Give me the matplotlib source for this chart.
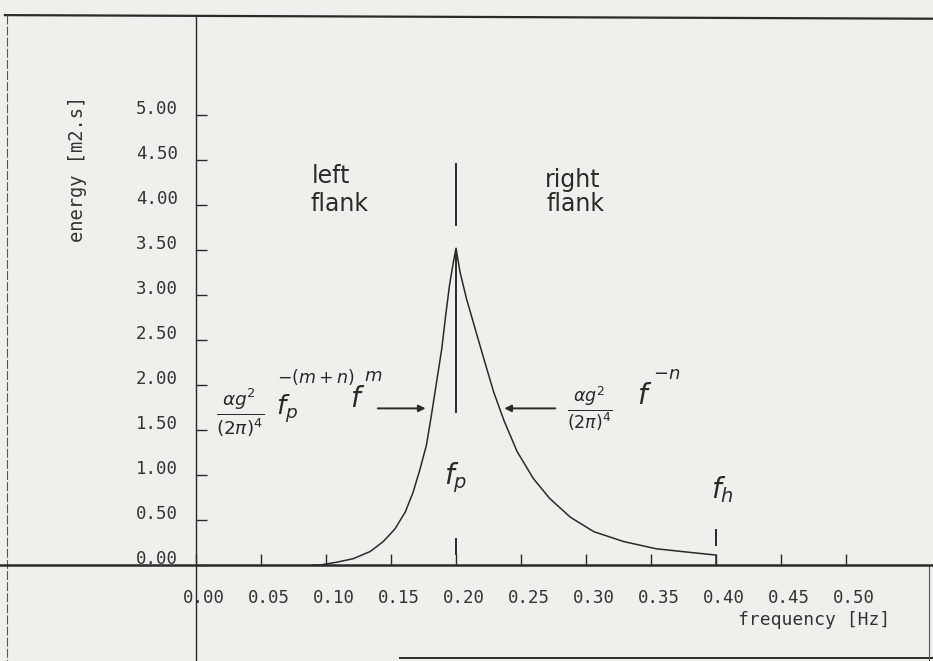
import numpy as np
import matplotlib as mpl
import matplotlib.pyplot as plt
from matplotlib.transforms import ScaledTranslation

# spectrum
freq_left = [0.090, 0.0954, 0.108, 0.121, 0.134, 0.144, 0.153, 0.161, 0.167,
             0.172, 0.1772, 0.181, 0.185, 0.189, 0.192, 0.195, 0.198, 0.200]
energy_left = [0.00, 0.00, 0.03, 0.07, 0.15, 0.26, 0.40, 0.59, 0.81,
               1.05, 1.33, 1.66, 2.03, 2.40, 2.77, 3.11, 3.37, 3.52]
freq_right = [0.203, 0.208, 0.2146, 0.221, 0.229, 0.237, 0.247, 0.2595,
              0.272, 0.288, 0.306, 0.329, 0.354, 0.380, 0.400, 0.400]
energy_right = [3.26, 2.96, 2.63, 2.31, 1.92, 1.60, 1.26, 0.96,
                0.74, 0.53, 0.37, 0.26, 0.18, 0.14, 0.11, 0.00]

f_peak = 0.20
f_high = 0.40

xticks = [0.00, 0.05, 0.10, 0.15, 0.20, 0.25, 0.30, 0.35, 0.40, 0.45, 0.50]
xtick_labels = ['0.00', '0.05', '0.10', '0.15', '0.20', '0.25', '0.30',
                '0.35', '0.40', '0.45', '0.50']
yticks = [0.00, 0.50, 1.00, 1.50, 2.00, 2.50, 3.00, 3.50, 4.00, 4.50, 5.00]
ytick_labels = ['0.00', '0.50', '1.00', '1.50', '2.00', '2.50', '3.00',
                '3.50', '4.00', '4.50', '5.00']

paper = '#efefec'
ink = '#2a2a2a'
mono = 'DejaVu Sans Mono'

fig = plt.figure(figsize=(9.33, 6.61), dpi=100, facecolor=paper)
ax = fig.add_axes([0, 0, 1, 1], facecolor=paper)
ax.set_xlim(-0.1508, 0.5669)
ax.set_ylim(-1.067, 6.278)

# axes through the origin, like the plotter output
for side in ['top', 'right']:
    ax.spines[side].set_visible(False)
ax.spines['left'].set_position(('data', 0))
ax.spines['bottom'].set_position(('data', 0))
ax.spines['left'].set_bounds(-1.07, 6.09)
ax.spines['left'].set_linewidth(1.0)
ax.spines['bottom'].set_linewidth(1.8)
ax.spines['left'].set_color(ink)
ax.spines['bottom'].set_color(ink)

ax.set_xticks(xticks)
ax.set_xticklabels(xtick_labels, family=mono, fontsize=12.5, color='#333333')
ax.set_yticks(yticks)
ax.set_yticklabels(ytick_labels, family=mono, fontsize=12.5, color='#333333')
ax.tick_params(axis='both', direction='in', length=8, width=1.0, color=ink)
ax.tick_params(axis='x', pad=17.5)
ax.tick_params(axis='y', pad=13)
for lab in ax.get_xticklabels():
    lab.set_transform(lab.get_transform() + ScaledTranslation(8/100, 0, fig.dpi_scale_trans))
for lab in ax.get_yticklabels():
    lab.set_transform(lab.get_transform() + ScaledTranslation(0, 8/100, fig.dpi_scale_trans))

# outer frame of the sheet
ax.plot([-0.147, 0.567], [6.11, 6.07], color=ink, lw=1.6, clip_on=False)
ax.plot([-0.1454, -0.1454], [6.11, -1.07], color='#555555', lw=0.8, ls=(0, (8, 2)))
ax.plot([0.157, 0.567], [-1.03, -1.03], color=ink, lw=1.4)
ax.plot([0.5635, 0.5635], [0, -1.07], color='#555555', lw=0.8)

# spectrum
ax.plot(freq_left + freq_right, energy_left + energy_right, color=ink, lw=1.1)

# peak marker and small ticks at f_p and f_h
ax.plot([f_peak, f_peak], [4.46, 3.78], color=ink, lw=1.4)
ax.plot([f_peak, f_peak], [3.50, 1.70], color=ink, lw=1.4)
ax.plot([f_peak, f_peak], [0.12, 0.29], color=ink, lw=1.4)
ax.plot([f_high, f_high], [0.22, 0.39], color=ink, lw=1.4)

# handwritten notes
hand = dict(color=ink, fontsize=17, family='DejaVu Sans')
ax.text(0.089, 4.32, 'left', ha='left', va='center', **hand)
ax.text(0.088, 4.01, 'flank', ha='left', va='center', **hand)
ax.text(0.2685, 4.28, 'right', ha='left', va='center', **hand)
ax.text(0.2695, 4.01, 'flank', ha='left', va='center', **hand)

ax.text(0.034, 1.70, r'$\frac{\alpha g^2}{(2\pi)^4}$', ha='center', va='center',
        color=ink, fontsize=19)
ax.text(0.070, 1.74, r'$f_p$', ha='center', va='center', color=ink, fontsize=19)
ax.text(0.092, 2.09, r'$-(m+n)$', ha='center', va='center', color=ink, fontsize=12.5)
ax.text(0.1245, 1.84, r'$f$', ha='center', va='center', color=ink, fontsize=20)
ax.text(0.136, 2.10, r'$m$', ha='center', va='center', color=ink, fontsize=13)

ax.text(0.303, 1.74, r'$\frac{\alpha g^2}{(2\pi)^4}$', ha='center', va='center',
        color=ink, fontsize=18)
ax.text(0.345, 1.88, r'$f$', ha='center', va='center', color=ink, fontsize=20)
ax.text(0.362, 2.12, r'$-n$', ha='center', va='center', color=ink, fontsize=13)

arrow = dict(arrowstyle='-|>', color=ink, lw=1.4, mutation_scale=10)
ax.annotate('', xy=(0.1787, 1.74), xytext=(0.1377, 1.74), arrowprops=arrow)
ax.annotate('', xy=(0.235, 1.74), xytext=(0.2785, 1.74), arrowprops=arrow)

ax.text(f_peak, 0.97, r'$f_p$', ha='center', va='center', color=ink, fontsize=20)
ax.text(0.405, 0.84, r'$f_h$', ha='center', va='center', color=ink, fontsize=20)

# axis titles
ax.text(0.534, -0.61, 'frequency [Hz]', ha='right', va='center',
        family=mono, fontsize=13, color='#333333')
ax.text(-0.0915, 4.40, 'energy [m2.s]', ha='center', va='center', rotation=90,
        family=mono, fontsize=13.5, color='#333333')

fig.savefig('out.png', dpi=100, facecolor=paper)
